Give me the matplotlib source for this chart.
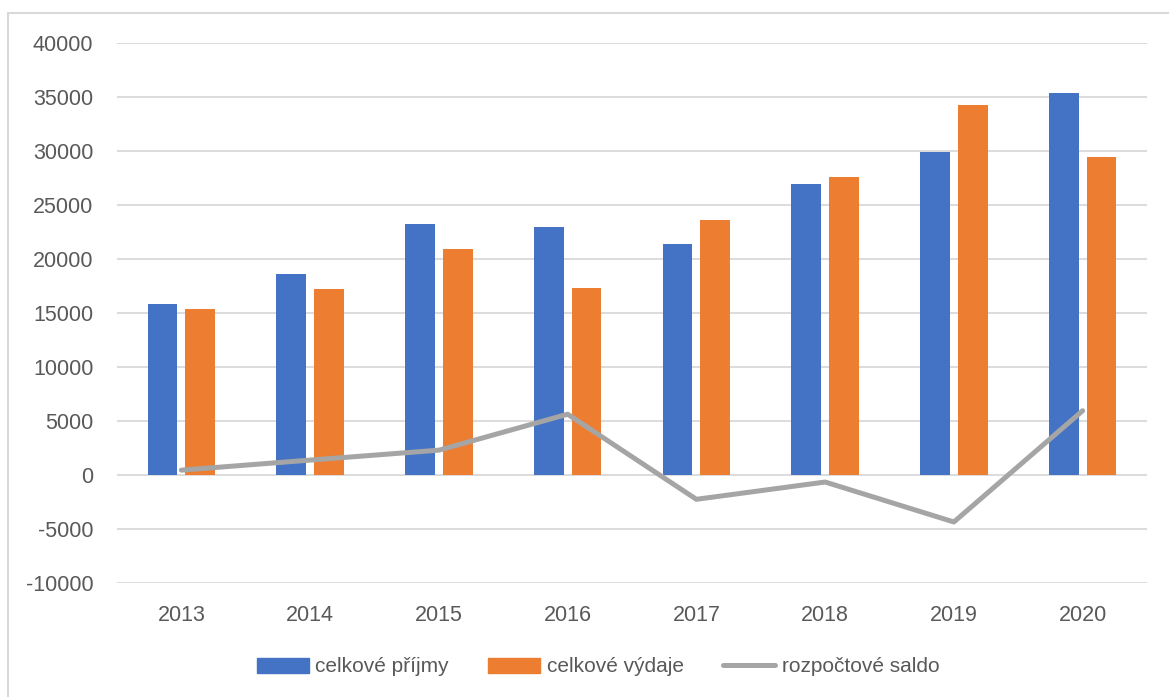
import matplotlib.pyplot as plt
import numpy as np
from matplotlib.patches import Patch, Rectangle
from matplotlib.lines import Line2D

years = ["2013", "2014", "2015", "2016", "2017", "2018", "2019", "2020"]
prijmy = [15800, 18580, 23200, 22930, 21400, 26900, 29950, 35350]
vydaje = [15350, 17200, 20900, 17300, 23650, 27550, 34300, 29400]
saldo = [450, 1380, 2300, 5630, -2250, -650, -4350, 5950]

blue = '#4472C4'
orange = '#ED7D31'
gray = '#A5A5A5'
txt = '#595959'

plt.rcParams['font.family'] = ['Liberation Sans', 'DejaVu Sans']
plt.rcParams['axes.unicode_minus'] = False

W, H = 1169, 697
fig = plt.figure(figsize=(W / 100, H / 100), dpi=100)

# chart frame (cut at right and bottom edge)
fig.patches.append(Rectangle((7.5 / W, -0.1), 1.2, 1.1 - 13 / H, transform=fig.transFigure,
                             fill=False, edgecolor='#D9D9D9', linewidth=1.5))

ax = fig.add_axes([117 / W, 1 - 583 / H, (1147 - 117) / W, (583 - 43) / H])
x = np.arange(len(years))
w = 0.23
ax.bar(x - 0.147, prijmy, w, color=blue, zorder=2)
ax.bar(x + 0.147, vydaje, w, color=orange, zorder=2)
ax.plot(x, saldo, color=gray, linewidth=3.6, solid_capstyle='round', zorder=3)

ax.set_xlim(-0.5, len(years) - 0.5)
ax.set_ylim(-10000, 40000)
ax.set_yticks(np.arange(-10000, 40001, 5000))
ax.set_xticks(x)
ax.set_xticklabels(years)
ax.grid(axis='y', color='#D9D9D9', linewidth=1.3, zorder=0)
ax.set_axisbelow(True)
for s in ax.spines.values():
    s.set_visible(False)
ax.tick_params(axis='both', length=0, labelsize=15.5, labelcolor=txt)
ax.tick_params(axis='y', pad=17)
ax.tick_params(axis='x', pad=16)

handles = [Patch(color=blue, label='celkové příjmy'),
           Patch(color=orange, label='celkové výdaje'),
           Line2D([0], [0], color=gray, linewidth=3.6, solid_capstyle='round', label='rozpočtové saldo')]
fig.legend(handles=handles, loc='center', bbox_to_anchor=(598 / W, 1 - 667 / H), ncol=3,
           frameon=False, fontsize=15, labelcolor=txt, handlelength=2.5, handletextpad=0.3,
           columnspacing=1.9)

fig.savefig('out.png', dpi=100)
